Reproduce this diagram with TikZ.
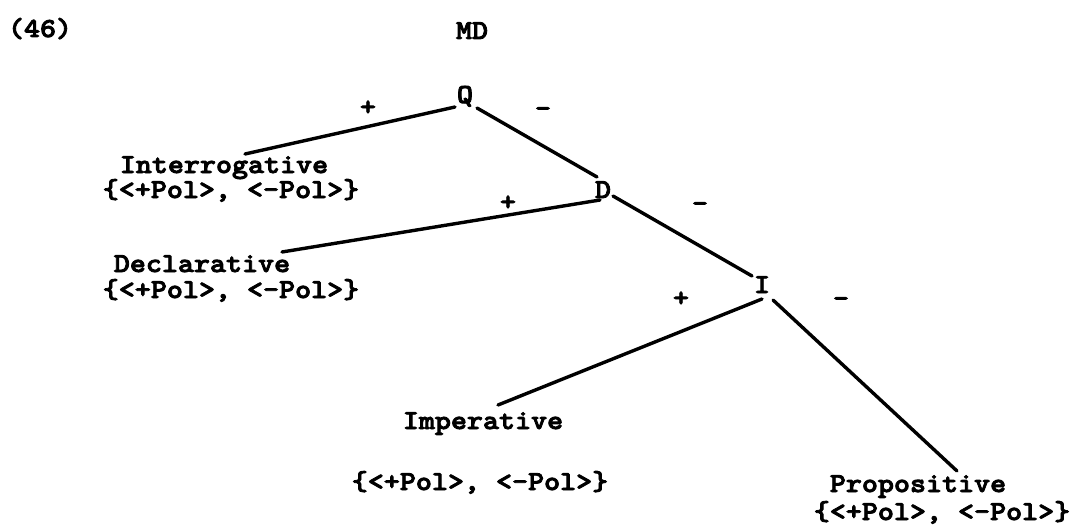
\documentclass[tikz,border=0pt]{standalone}
\usepackage{fontspec}
\newfontfamily\twfont{lmmonolt10-bold.otf}[FakeStretch=1.11, FakeBold=3]
\usetikzlibrary{positioning}

\begin{document}
\begin{tikzpicture}[
  x=1pt, y=-1pt,
  font=\twfont\fontsize{27.5}{29}\selectfont,
  lbl/.style={inner sep=0pt, anchor=base},
  sgn/.style={inner sep=0pt, anchor=center},
  branch/.style={line width=3.4pt, line cap=round}
]
  \useasboundingbox (0,0) rectangle (1070,532);

  %% labels
  \node[lbl] (num) at (40,37) {(46)};
  \node[lbl] (md) at (472,39) {MD};

  %% Q
  \node[lbl] (q) at (465,103) {Q};
  \node[sgn] (qp) at (368,108) {+};
  \node[sgn] (qm) at (543,112) {-};
  \node[lbl] (int) at (224,173) {Interrogative};
  \node[lbl] (intpol) at (231,198) {\{<+Pol>, <-Pol>\}};

  %% D
  \node[lbl] (d) at (603,198) {D};
  \node[sgn] (dp) at (508,203) {+};
  \node[sgn] (dm) at (700,207) {-};
  \node[lbl] (decl) at (202,272) {Declarative};
  \node[lbl] (declpol) at (231,298) {\{<+Pol>, <-Pol>\}};

  %% I
  \node[lbl] (i) at (762,293) {I};
  \node[sgn] (ip) at (681,299) {+};
  \node[sgn] (im) at (841,302) {-};
  \node[lbl] (imp) at (483,429) {Imperative};
  \node[lbl] (imppol) at (480,490) {\{<+Pol>, <-Pol>\}};
  \node[lbl] (prop) at (918,492) {Propositive};
  \node[lbl] (proppol) at (942,520) {\{<+Pol>, <-Pol>\}};

  %% branches
  \draw[branch] ([shift={(-10,4)}]q.base) -- ([shift={(21,-19)}]int.base);
  \draw[branch] ([shift={(12,5)}]q.base) -- ([shift={(-6,-21)}]d.base);
  \draw[branch] ([shift={(-3,2)}]d.base) -- ([shift={(80,-20)}]decl.base);
  \draw[branch] ([shift={(10,-2)}]d.base) -- ([shift={(-10,-17)}]i.base);
  \draw[branch] ([shift={(0,6)}]i.base) -- ([shift={(15,-24)}]imp.base);
  \draw[branch] ([shift={(11,7)}]i.base) -- ([shift={(39,-21)}]prop.base);
\end{tikzpicture}
\end{document}
